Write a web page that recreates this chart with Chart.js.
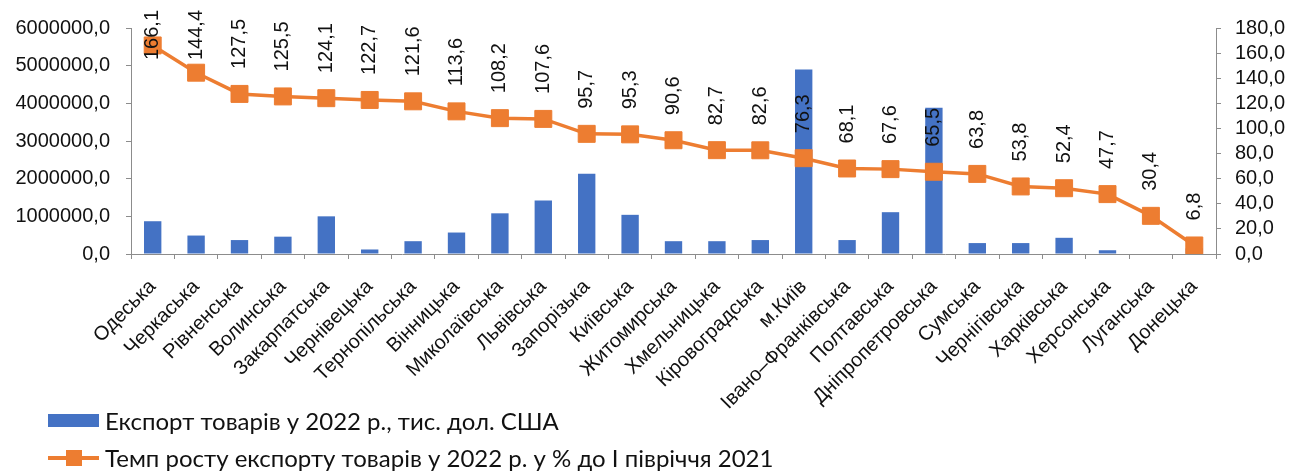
<!DOCTYPE html>
<html lang="uk">
<head>
    <meta charset="UTF-8">
    <title>Експорт товарів за регіонами</title>
    <script src="https://cdn.jsdelivr.net/npm/chart.js"></script>
    <style>
        html, body { margin: 0; padding: 0; background: #fff; }
        .wrap { position: relative; width: 1291px; height: 473px; }
        #chart { position: absolute; left: 0; top: 0; }
        .legend {
            position: absolute; left: 48px; top: 402px;
            font-family: Lato, 'Open Sans', sans-serif; font-size: 24px; color: #111;
        }
        .legend div { display: flex; align-items: center; height: 37px; }
        .box { display: inline-block; width: 51px; height: 13px; background: #4472C4; margin-right: 6px; }
        .ln { position: relative; display: inline-block; width: 51px; height: 16px; margin-right: 6px; }
        .ln::before { content: ''; position: absolute; left: 0; right: 0; top: 6px; height: 4px; background: #ED7D31; }
        .ln::after { content: ''; position: absolute; left: 18px; top: 0; width: 16px; height: 16px; background: #ED7D31; }
    </style>
</head>
<body>
<div class="wrap">
    <canvas id="chart" width="1291" height="473"></canvas>
    <div class="legend">
        <div><span class="box"></span>Експорт товарів у 2022 р., тис. дол. США</div>
        <div><span class="ln"></span>Темп росту експорту товарів у 2022 р. у % до І півріччя 2021</div>
    </div>
</div>
<script>
    const regions = ['Одеська', 'Черкаська', 'Рівненська', 'Волинська', 'Закарпатська', 'Чернівецька',
        'Тернопільська', 'Вінницька', 'Миколаївська', 'Львівська', 'Запорізька', 'Київська',
        'Житомирська', 'Хмельницька', 'Кіровоградська', 'м.Київ', 'Івано–Франківська', 'Полтавська',
        'Дніпропетровська', 'Сумська', 'Чернігівська', 'Харківська', 'Херсонська', 'Луганська', 'Донецька'];
    const exportValues = [870000, 490000, 370000, 460000, 1000000, 120000, 340000, 570000, 1080000,
        1420000, 2130000, 1040000, 340000, 340000, 370000, 4900000, 370000, 1110000, 3880000,
        290000, 290000, 430000, 100000, 0, 150000];
    const growthRate = [166.1, 144.4, 127.5, 125.5, 124.1, 122.7, 121.6, 113.6, 108.2, 107.6, 95.7, 95.3,
        90.6, 82.7, 82.6, 76.3, 68.1, 67.6, 65.5, 63.8, 53.8, 52.4, 47.7, 30.4, 6.8];

    const fmt = v => Number(v).toFixed(1).replace('.', ',');
    const axisColor = '#8c8c8c';

    Chart.defaults.font.family = "'Liberation Sans', Arial, sans-serif";
    Chart.defaults.color = '#111';

    // vertical value labels above the line markers
    const pointLabels = {
        id: 'pointLabels',
        afterDatasetsDraw(chart) {
            const meta = chart.getDatasetMeta(1);
            const ctx = chart.ctx;
            ctx.save();
            ctx.font = "20px 'Liberation Sans', Arial, sans-serif";
            ctx.fillStyle = '#111';
            ctx.textAlign = 'left';
            ctx.textBaseline = 'middle';
            meta.data.forEach((pt, i) => {
                const txt = fmt(growthRate[i]);
                const w = ctx.measureText(txt).width;
                let start = pt.y - 25;
                if (start - w < 10) start = 10 + w;
                ctx.save();
                ctx.translate(pt.x, start);
                ctx.rotate(-Math.PI / 2);
                ctx.fillText(txt, 0, 0);
                ctx.restore();
            });
            ctx.restore();
        }
    };

    new Chart(document.getElementById('chart'), {
        data: {
            labels: regions,
            datasets: [{
                type: 'bar',
                label: 'Експорт товарів у 2022 р., тис. дол. США',
                data: exportValues,
                backgroundColor: '#4472C4',
                barPercentage: 0.4,
                categoryPercentage: 1,
                yAxisID: 'y',
                order: 1
            }, {
                type: 'line',
                label: 'Темп росту експорту товарів у 2022 р. у % до І півріччя 2021',
                data: growthRate,
                borderColor: '#ED7D31',
                backgroundColor: '#ED7D31',
                borderWidth: 3.5,
                pointStyle: 'rect',
                pointRadius: 12,
                pointBorderWidth: 1,
                yAxisID: 'y1',
                order: 0
            }]
        },
        options: {
            responsive: false,
            animation: false,
            layout: { padding: { top: 27, left: 0, right: 0, bottom: 0 } },
            plugins: { legend: { display: false }, tooltip: { enabled: false } },
            scales: {
                x: {
                    offset: true,
                    grid: { offset: true, drawOnChartArea: false, tickLength: 5, color: axisColor },
                    border: { color: axisColor },
                    ticks: { minRotation: 45, maxRotation: 45, padding: 16, autoSkip: false, font: { size: 20 } },
                    afterFit: s => { s.height = 219; }
                },
                y: {
                    position: 'left',
                    min: 0, max: 6000000,
                    grid: { drawOnChartArea: false, tickLength: 5, color: axisColor },
                    border: { color: axisColor },
                    ticks: { stepSize: 1000000, autoSkip: false, padding: 16, callback: fmt, font: { size: 20 } },
                    afterFit: s => { s.width = 131; }
                },
                y1: {
                    position: 'right',
                    min: 0, max: 180,
                    grid: { drawOnChartArea: false, tickLength: 5, color: axisColor },
                    border: { color: axisColor },
                    ticks: { stepSize: 20, autoSkip: false, padding: 14, callback: fmt, font: { size: 20 } },
                    afterFit: s => { s.width = 75; }
                }
            }
        },
        plugins: [pointLabels]
    });
</script>
</body>
</html>
